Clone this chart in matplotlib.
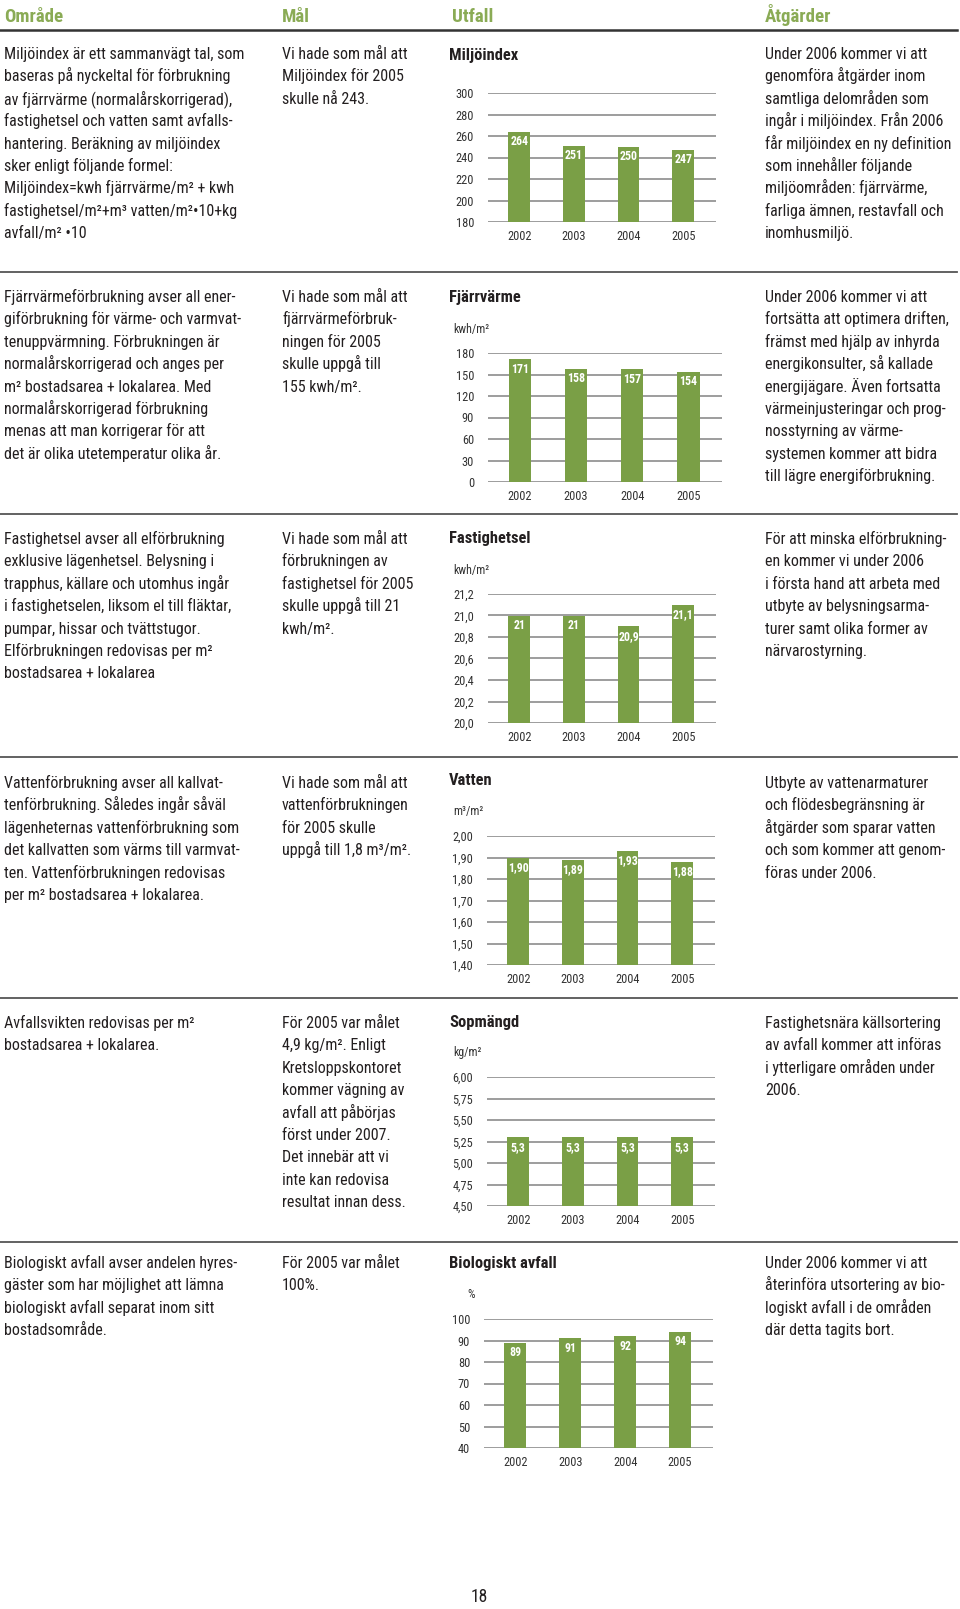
import matplotlib
matplotlib.use('Agg')
import matplotlib.pyplot as plt
from matplotlib.lines import Line2D
from matplotlib import font_manager as fm

W, H = 960, 1609
GREEN = '#7a9f46'
HEAD_GREEN = '#8aab55'
TXT = '#231f20'

years = ['2002', '2003', '2004', '2005']

miljoindex = [264, 251, 250, 247]
fjarrvarme = [171, 158, 157, 154]
fastighetsel = [21.0, 21.0, 20.9, 21.1]
vatten = [1.90, 1.89, 1.93, 1.88]
sopmangd = [5.3, 5.3, 5.3, 5.3]
biologiskt = [89, 91, 92, 94]

headers = ['Område', 'Mål', 'Utfall', 'Åtgärder']

omrade = [
    ['Miljöindex är ett sammanvägt tal, som',
     'baseras på nyckeltal för förbrukning',
     'av fjärrvärme (normalårskorrigerad),',
     'fastighetsel och vatten samt avfalls-',
     'hantering. Beräkning av miljöindex',
     'sker enligt följande formel:',
     'Miljöindex=kwh fjärrvärme/m² + kwh',
     'fastighetsel/m²+m³ vatten/m²•10+kg',
     'avfall/m² •10'],
    ['Fjärrvärmeförbrukning avser all ener-',
     'giförbrukning för värme- och varmvat-',
     'tenuppvärmning. Förbrukningen är',
     'normalårskorrigerad och anges per',
     'm² bostadsarea + lokalarea. Med',
     'normalårskorrigerad förbrukning',
     'menas att man korrigerar för att',
     'det är olika utetemperatur olika år.'],
    ['Fastighetsel avser all elförbrukning',
     'exklusive lägenhetsel. Belysning i',
     'trapphus, källare och utomhus ingår',
     'i fastighetselen, liksom el till fläktar,',
     'pumpar, hissar och tvättstugor.',
     'Elförbrukningen redovisas per m²',
     'bostadsarea + lokalarea'],
    ['Vattenförbrukning avser all kallvat-',
     'tenförbrukning. Således ingår såväl',
     'lägenheternas vattenförbrukning som',
     'det kallvatten som värms till varmvat-',
     'ten. Vattenförbrukningen redovisas',
     'per m² bostadsarea + lokalarea.'],
    ['Avfallsvikten redovisas per m²',
     'bostadsarea + lokalarea.'],
    ['Biologiskt avfall avser andelen hyres-',
     'gäster som har möjlighet att lämna',
     'biologiskt avfall separat inom sitt',
     'bostadsområde.'],
]

mal = [
    ['Vi hade som mål att', 'Miljöindex för 2005', 'skulle nå 243.'],
    ['Vi hade som mål att', 'fjärrvärmeförbruk-', 'ningen för 2005',
     'skulle uppgå till', '155 kwh/m².'],
    ['Vi hade som mål att', 'förbrukningen av', 'fastighetsel för 2005',
     'skulle uppgå till 21', 'kwh/m².'],
    ['Vi hade som mål att', 'vattenförbrukningen', 'för 2005 skulle',
     'uppgå till 1,8 m³/m².'],
    ['För 2005 var målet', '4,9 kg/m². Enligt', 'Kretsloppskontoret',
     'kommer vägning av', 'avfall att påbörjas', 'först under 2007.',
     'Det innebär att vi', 'inte kan redovisa', 'resultat innan dess.'],
    ['För 2005 var målet', '100%.'],
]

atgarder = [
    ['Under 2006 kommer vi att', 'genomföra åtgärder inom',
     'samtliga delområden som', 'ingår i miljöindex. Från 2006',
     'får miljöindex en ny definition', 'som innehåller följande',
     'miljöområden: fjärrvärme,', 'farliga ämnen, restavfall och',
     'inomhusmiljö.'],
    ['Under 2006 kommer vi att', 'fortsätta att optimera driften,',
     'främst med hjälp av inhyrda', 'energikonsulter, så kallade',
     'energijägare. Även fortsatta', 'värmeinjusteringar och prog-',
     'nosstyrning av värme-', 'systemen kommer att bidra',
     'till lägre energiförbrukning.'],
    ['För att minska elförbrukning-', 'en kommer vi under 2006',
     'i första hand att arbeta med', 'utbyte av belysningsarma-',
     'turer samt olika former av', 'närvarostyrning.'],
    ['Utbyte av vattenarmaturer', 'och flödesbegränsning är',
     'åtgärder som sparar vatten', 'och som kommer att genom-',
     'föras under 2006.'],
    ['Fastighetsnära källsortering', 'av avfall kommer att införas',
     'i ytterligare områden under', '2006.'],
    ['Under 2006 kommer vi att', 'återinföra utsortering av bio-',
     'logiskt avfall i de områden', 'där detta tagits bort.'],
]

# chart settings: title, unit, values, ymin, ymax, step, tick format, value format
charts = [
    ('Miljöindex', '', miljoindex, 180, 300, 20, '{:.0f}', '{:g}'),
    ('Fjärrvärme', 'kwh/m²', fjarrvarme, 0, 180, 30, '{:.0f}', '{:g}'),
    ('Fastighetsel', 'kwh/m²', fastighetsel, 20.0, 21.2, 0.2, '{:.1f}', '{:g}'),
    ('Vatten', 'm³/m²', vatten, 1.40, 2.00, 0.10, '{:.2f}', '{:.2f}'),
    ('Sopmängd', 'kg/m²', sopmangd, 4.50, 6.00, 0.25, '{:.2f}', '{:.1f}'),
    ('Biologiskt avfall', '%', biologiskt, 40, 100, 10, '{:.0f}', '{:g}'),
]

# layout in pixels (from the top of the page)
dividers = [272, 514, 757, 998, 1242]
text_top = [54, 297, 539, 783, 1023, 1263]
# left, right, top, bottom of each plot area, title y, unit y
boxes = [
    (488, 716, 93, 222, 55, None),
    (488, 722, 353, 482, 297, 329),
    (488, 716, 594, 723, 538, 570),
    (487, 715, 836, 965, 780, 811),
    (487, 715, 1077, 1206, 1022, 1052),
    (484, 713, 1319, 1448, 1263, 1294),
]
cols = [4, 282, 449, 765]

# narrowest sans available
names = {f.name for f in fm.fontManager.ttflist}
pref = ['Liberation Sans Narrow', 'Roboto Condensed', 'Open Sans Condensed',
        'DejaVu Sans Condensed', 'Roboto', 'Liberation Sans']
FAM = next(n for n in pref if n in names)
BODY = [FAM, 'DejaVu Sans']


def fx(x):
    return x / W


def fy(y):
    return 1 - y / H


fig = plt.figure(figsize=(9.6, 16.09), dpi=100)
fig.patch.set_facecolor('white')
renderer = fig.canvas.get_renderer()


def fit(text, target, **kw):
    # font size that gives the text the width measured on the page
    t = fig.text(0, 0, text, fontsize=10, family=BODY, **kw)
    w = t.get_window_extent(renderer).width
    t.remove()
    return 10 * target / w


BODY_SIZE = min(fit('Miljöindex är ett sammanvägt tal, som', 249), 11.5)
HEAD_SIZE = fit('Område', 59, fontweight='bold')
TITLE_SIZE = fit('Miljöindex', 69, fontweight='bold')
TICK_SIZE = fit('2002', 24)
VAL_SIZE = fit('264', 18, fontweight='bold')
UNIT_SIZE = fit('kwh/m²', 36)


def block(x, y0, lines, step=22.4):
    for i, s in enumerate(lines):
        fig.text(fx(x), fy(y0 + i * step + 5), s, ha='left', va='baseline',
                 fontsize=BODY_SIZE, color=TXT, family=BODY)


def hline(y, lw=1.3, color='#555555'):
    fig.add_artist(Line2D([fx(0), fx(957)], [fy(y), fy(y)], lw=lw, color=color,
                          transform=fig.transFigure))


def chart(box, spec):
    left, right, top, bottom, ty, uy = box
    title, unit, vals, ymin, ymax, step, tfmt, vfmt = spec
    ax = fig.add_axes([fx(left), fy(bottom), (right - left) / W, (bottom - top) / H])
    x = range(len(vals))
    ax.bar(x, [v - ymin for v in vals], bottom=ymin, width=0.4, color=GREEN, zorder=2)
    ax.set_xlim(-0.57, 3.6)
    ax.set_ylim(ymin, ymax)
    n = int(round((ymax - ymin) / step))
    ticks = [ymin + k * step for k in range(n + 1)]
    ax.set_yticks(ticks)
    ax.set_yticklabels([tfmt.format(t).replace('.', ',') for t in ticks])
    ax.set_xticks(list(x))
    ax.set_xticklabels(years)
    ax.tick_params(axis='y', length=0, pad=10, labelsize=TICK_SIZE, labelcolor='#333333')
    ax.tick_params(axis='x', length=0, pad=6, labelsize=TICK_SIZE, labelcolor='#333333')
    for lab in ax.get_xticklabels() + ax.get_yticklabels():
        lab.set_family(BODY)
    ax.yaxis.grid(True, color='#8c8c8c', lw=1.2, zorder=0)
    ax.set_axisbelow(True)
    for s in ax.spines.values():
        s.set_visible(False)
    ax.patch.set_alpha(0)
    for i, v in enumerate(vals):
        ax.annotate(vfmt.format(v).replace('.', ','), (i, v), xytext=(0, -10),
                    textcoords='offset pixels', ha='center', va='center',
                    color='white', fontsize=VAL_SIZE, fontweight='bold',
                    family=BODY, zorder=3, annotation_clip=False)
    fig.text(fx(449), fy(ty + 5), title, ha='left', va='baseline', fontsize=TITLE_SIZE,
             fontweight='bold', color=TXT, family=BODY)
    if uy is not None:
        ux = 467 if unit == '%' else 453
        fig.text(fx(ux), fy(uy + 4), unit, ha='left', va='baseline', fontsize=UNIT_SIZE,
                 color='#333333', family=BODY)


for i, h in enumerate(headers):
    fig.text(fx(cols[i] if i != 2 else 452), fy(21.5), h, ha='left', va='baseline',
             fontsize=HEAD_SIZE, fontweight='bold', color=HEAD_GREEN, family=BODY)
hline(29.5, lw=1.8, color='#333333')
for d in dividers:
    hline(d)

for r in range(6):
    block(cols[0], text_top[r], omrade[r])
    block(cols[1], text_top[r], mal[r])
    block(cols[3], text_top[r], atgarder[r])
    chart(boxes[r], charts[r])

fig.text(fx(479), fy(1597), '18', ha='center', va='center', fontsize=BODY_SIZE * 1.1,
         color=TXT, family=BODY)

fig.savefig('out.png', dpi=100)
